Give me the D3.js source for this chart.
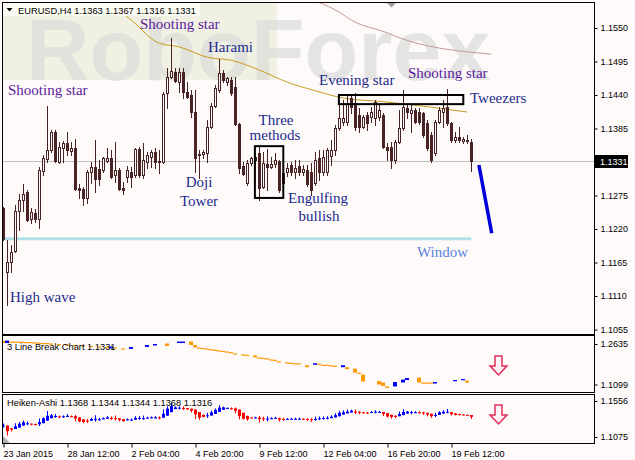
<!DOCTYPE html>
<html><head><meta charset="utf-8">
<script src="https://cdn.jsdelivr.net/npm/d3@7"></script>
<style>html,body{margin:0;padding:0;background:#fffafa;} svg{display:block;}</style>
</head><body>
<svg id="c" width="635" height="460"></svg>
<script>
// ---------------- DATA ----------------
const headerText = "EURUSD,H4  1.1363 1.1367 1.1316 1.1331";
const lbTitle = "3 Line Break Chart 1.1331";
const haTitle = "Heiken-Ashi 1.1368 1.1344 1.1344 1.1368 1.1316";
const currentPrice = 1.1331;

const openP = [1.1254,1.1149,1.1166,1.1184,1.1250,1.1268,1.1281,1.1236,1.1246,1.1236,
1.1315,1.1335,1.1350,1.1379,1.1330,1.1353,1.1361,1.1348,1.1353,1.1287,
1.1286,1.1271,1.1314,1.1322,1.1318,1.1317,1.1332,1.1337,1.1309,1.1317,
1.1287,1.1305,1.1314,1.1309,1.1351,1.1309,1.1330,1.1338,1.1346,1.1332,
1.1330,1.1443,1.1470,1.1478,1.1461,1.1478,1.1445,1.1440,1.1412,1.1341,
1.1343,1.1345,1.1387,1.1422,1.1448,1.1476,1.1461,1.1465,1.1453,1.1392,
1.1323,1.1296,1.1328,1.1333,1.1345,1.1289,1.1327,1.1322,1.1327,1.1332,
1.1296,1.1314,1.1325,1.1314,1.1323,1.1314,1.1317,1.1314,1.1296,1.1337,
1.1314,1.1314,1.1340,1.1350,1.1386,1.1396,1.1396,1.1435,1.1427,1.1407,
1.1387,1.1407,1.1404,1.1402,1.1404,1.1407,1.1355,1.1355,1.1333,1.1363,
1.1386,1.1419,1.1410,1.1415,1.1412,1.1410,1.1394,1.1374,1.1345,1.1396,
1.1412,1.1420,1.1394,1.1366,1.1371,1.1364,1.1366,1.1363];
const highP = [1.1256,1.1202,1.1194,1.1259,1.1277,1.1294,1.1284,1.1254,1.1253,1.1322,
1.1341,1.1422,1.1382,1.1382,1.1363,1.1364,1.1379,1.1363,1.1368,1.1294,
1.1289,1.1317,1.1330,1.1366,1.1333,1.1338,1.1353,1.1350,1.1363,1.1320,
1.1297,1.1323,1.1322,1.1353,1.1355,1.1361,1.1346,1.1350,1.1353,1.1350,
1.1445,1.1484,1.1534,1.1484,1.1484,1.1484,1.1461,1.1448,1.1448,1.1350,
1.1350,1.1399,1.1427,1.1456,1.1499,1.1481,1.1470,1.1470,1.1470,1.1394,
1.1330,1.1333,1.1338,1.1345,1.1356,1.1346,1.1351,1.1338,1.1345,1.1333,
1.1328,1.1328,1.1330,1.1333,1.1333,1.1325,1.1325,1.1328,1.1346,1.1350,
1.1350,1.1353,1.1366,1.1391,1.1424,1.1432,1.1440,1.1440,1.1443,1.1419,
1.1407,1.1412,1.1420,1.1432,1.1424,1.1410,1.1361,1.1363,1.1366,1.1415,
1.1448,1.1424,1.1424,1.1419,1.1419,1.1412,1.1399,1.1379,1.1399,1.1420,
1.1432,1.1450,1.1396,1.1379,1.1387,1.1371,1.1374,1.1367];
const lowP = [1.1202,1.1095,1.1149,1.1182,1.1218,1.1250,1.1233,1.1230,1.1231,1.1222,
1.1309,1.1330,1.1346,1.1330,1.1328,1.1330,1.1341,1.1341,1.1284,1.1271,
1.1259,1.1263,1.1296,1.1281,1.1292,1.1314,1.1330,1.1304,1.1297,1.1284,
1.1277,1.1297,1.1289,1.1305,1.1305,1.1304,1.1320,1.1322,1.1320,1.1312,
1.1328,1.1419,1.1468,1.1461,1.1445,1.1435,1.1435,1.1404,1.1314,1.1304,
1.1337,1.1330,1.1386,1.1420,1.1445,1.1461,1.1456,1.1440,1.1391,1.1312,
1.1309,1.1292,1.1325,1.1328,1.1268,1.1287,1.1284,1.1320,1.1322,1.1281,
1.1292,1.1307,1.1309,1.1304,1.1309,1.1309,1.1291,1.1276,1.1292,1.1300,
1.1309,1.1309,1.1325,1.1341,1.1382,1.1391,1.1391,1.1410,1.1382,1.1379,
1.1386,1.1382,1.1396,1.1391,1.1399,1.1353,1.1333,1.1320,1.1328,1.1361,
1.1382,1.1402,1.1379,1.1394,1.1392,1.1371,1.1350,1.1330,1.1341,1.1394,
1.1387,1.1391,1.1363,1.1363,1.1363,1.1361,1.1361,1.1316];
const closeP = [1.1204,1.1166,1.1182,1.1250,1.1268,1.1277,1.1235,1.1248,1.1236,1.1317,
1.1337,1.1350,1.1379,1.1332,1.1355,1.1361,1.1350,1.1353,1.1286,1.1284,
1.1271,1.1314,1.1322,1.1302,1.1302,1.1337,1.1337,1.1305,1.1317,1.1286,
1.1284,1.1317,1.1305,1.1351,1.1309,1.1333,1.1341,1.1346,1.1330,1.1330,
1.1442,1.1470,1.1479,1.1463,1.1478,1.1445,1.1437,1.1412,1.1337,1.1343,
1.1346,1.1387,1.1422,1.1452,1.1476,1.1465,1.1468,1.1443,1.1392,1.1320,
1.1310,1.1328,1.1337,1.1338,1.1287,1.1328,1.1322,1.1327,1.1333,1.1284,
1.1312,1.1320,1.1314,1.1320,1.1314,1.1318,1.1294,1.1284,1.1333,1.1314,
1.1338,1.1350,1.1350,1.1386,1.1402,1.1402,1.1427,1.1420,1.1387,1.1387,
1.1404,1.1394,1.1412,1.1429,1.1415,1.1355,1.1350,1.1333,1.1363,1.1386,
1.1420,1.1412,1.1415,1.1396,1.1396,1.1375,1.1353,1.1333,1.1396,1.1415,
1.1419,1.1394,1.1366,1.1371,1.1366,1.1368,1.1364,1.1331];

// moving averages (bar index, value)
const maGoldBar = [24,26,32,39,44,51,57,64,71,78,85,95,107,116];
const maGoldVal = [1.1604,1.1594,1.1563,1.1525,1.1519,1.1502,1.1497,1.1481,1.1461,1.1447,1.1435,1.1429,1.1420,1.1412];
const maRoseBar = [76,84,87,96,99,109,112,122];
const maRoseVal = [1.1599,1.1576,1.1563,1.1542,1.1534,1.1517,1.1514,1.1507];

// 3 line break bricks
const lbBar = [0,1,2,3,4,5,6,7,8,9,10,11,12,14,16,18,20,22,24,26,27,28,30,32,36,38,41,44,45,47,48,
49,50,51,52,53,54,55,56,57,58,60,61,63,64,65,66,67,68,69,71,72,73,74,76,78,79,80,81,82,83,85,86,88,89,90,
94,95,96,98,100,101,104,105,106,107,108,113,115,116];
const lbOpen = [1.2747,1.2672,1.2729,1.2729,1.2721,1.2721,1.2710,1.2710,1.2691,1.2691,1.2672,1.2672,1.2654,1.2635,1.2616,1.2598,1.2579,1.2560,1.2541,1.2523,1.2466,1.2504,1.2466,1.2448,1.2523,1.2579,1.2654,1.2672,1.2672,1.2729,1.2598,
1.2504,1.2485,1.2463,1.2440,1.2418,1.2395,1.2373,1.2350,1.2328,1.2279,1.2242,1.2223,1.2204,1.2129,1.2111,1.2092,1.2054,1.2036,1.1980,1.1942,1.1923,1.1905,1.1905,1.1830,1.1848,1.1886,1.1848,1.1848,1.1830,1.1811,1.1755,1.1755,1.1699,1.1549,1.1474,
1.1230,1.1174,1.1024,1.1024,1.1174,1.1268,1.1361,1.1174,1.1174,1.1174,1.1136,1.1230,1.1286,1.1249];
const lbClose = [1.2672,1.2766,1.2710,1.2710,1.2691,1.2691,1.2691,1.2672,1.2672,1.2654,1.2654,1.2635,1.2635,1.2616,1.2598,1.2579,1.2560,1.2541,1.2523,1.2504,1.2541,1.2466,1.2429,1.2523,1.2598,1.2635,1.2560,1.2729,1.2729,1.2598,1.2504,
1.2466,1.2448,1.2429,1.2410,1.2395,1.2373,1.2350,1.2328,1.2305,1.2242,1.2223,1.2204,1.2129,1.2111,1.2092,1.2054,1.2036,1.2017,1.1942,1.1905,1.1905,1.1886,1.1867,1.1755,1.1905,1.1848,1.1830,1.1811,1.1811,1.1792,1.1830,1.1680,1.1549,1.1511,1.1211,
1.1099,1.1043,1.0968,1.1193,1.1286,1.1343,1.1174,1.1136,1.1136,1.1136,1.1193,1.1268,1.1305,1.1174];

// annotations in data units
const windowLine = {from:0, to:117, price:1.1204};
const forecast = {fromBar:118.9, fromPrice:1.1325, toBar:122.1, toPrice:1.1213};
const threeMethodsBox = {b0:62.9, b1:70.0, p0:1.1356, p1:1.1271};
const tweezersBox = {b0:83.9, b1:115.0, p0:1.1440, p1:1.1425};

const priceTicks = [1.1550,1.1495,1.1440,1.1385,1.1275,1.1220,1.1165,1.1110,1.1055];
const lbTicks = [1.2635,1.1099];
const haTicks = [1.1556,1.1075];
const dateIdx = [0,16,32,48,64,80,96,112];
const dateLabels = ["23 Jan 2015","28 Jan 12:00","2 Feb 04:00","4 Feb 20:00","9 Feb 12:00","12 Feb 04:00","16 Feb 20:00","19 Feb 12:00"];

const labels = [
  {t:"Shooting star", x:8, y:95, c:"purple"},
  {t:"Shooting star", x:140, y:29, c:"purple"},
  {t:"Harami", x:208, y:52, c:"navy"},
  {t:"Three", x:276, y:125, c:"navy", a:"middle"},
  {t:"methods", x:275, y:140, c:"navy", a:"middle"},
  {t:"Doji", x:199, y:187, c:"navy", a:"middle"},
  {t:"Tower", x:199, y:206, c:"navy", a:"middle"},
  {t:"Engulfing", x:318, y:203, c:"navy", a:"middle"},
  {t:"bullish", x:319, y:221, c:"navy", a:"middle"},
  {t:"Evening star", x:319, y:85, c:"navy"},
  {t:"Shooting star", x:408, y:78, c:"purple"},
  {t:"Tweezers", x:470, y:103, c:"navy"},
  {t:"Window", x:417, y:257, c:"window"},
  {t:"High wave", x:10, y:302, c:"navy"}
];

// ---------------- DRAW ----------------
const BG = "#fffafa", CANDLE = "#4a2424";
const colorMap = {purple:"#5a1aa0", navy:"#1c2a8c", window:"#5a82e0"};
const L = 3, R = 594;
const mainT = 3, mainB = 334, p2T = 336, p2B = 392, p3T = 395, p3B = 443;

const svg = d3.select("#c");
svg.append("rect").attr("width",635).attr("height",460).attr("fill",BG);

const x = d3.scaleLinear().domain([0,100]).range([3.3,403.3]);
const y = d3.scaleLinear().domain([1.1055,1.1550]).range([329.5,28]);
const y2 = d3.scaleLinear().domain([1.1099,1.2635]).range([384.5,344]);
const y3 = d3.scaleLinear().domain([1.1075,1.1556]).range([437,401]);

const defs = svg.append("defs");
defs.append("clipPath").attr("id","cm").append("rect").attr("x",L).attr("y",mainT).attr("width",R-L).attr("height",mainB-mainT);
defs.append("clipPath").attr("id","c2").append("rect").attr("x",L).attr("y",p2T).attr("width",R-L).attr("height",p2B-p2T);
defs.append("clipPath").attr("id","c3").append("rect").attr("x",L).attr("y",p3T).attr("width",R-L).attr("height",p3B-p3T);

// ---- main panel ----
const gm = svg.append("g").attr("clip-path","url(#cm)");
// watermark
gm.append("rect").attr("x",L).attr("y",mainT).attr("width",274).attr("height",77).attr("fill","#f1f1e3");
gm.append("text").attr("x",26).attr("y",80).attr("font-family","Liberation Sans, Arial, sans-serif")
  .attr("font-weight","bold").attr("font-size",88).attr("fill","#d9ddd9").attr("opacity",0.7).text("RoboForex");

// current price line
gm.append("line").attr("x1",L).attr("x2",R).attr("y1",Math.round(y(currentPrice))+0.5).attr("y2",Math.round(y(currentPrice))+0.5)
  .attr("stroke","#c0c0c0").attr("stroke-width",1);

// window line
gm.append("line").attr("x1",x(windowLine.from)-1).attr("x2",x(windowLine.to)).attr("y1",y(windowLine.price)).attr("y2",y(windowLine.price))
  .attr("stroke","#b0e0e6").attr("stroke-width",3);

// moving averages
const lineGen = d3.line().curve(d3.curveMonotoneX);
gm.append("path").attr("d", lineGen(maGoldBar.map((b,i)=>[x(b), y(maGoldVal[i])])))
  .attr("fill","none").attr("stroke","#c89a1e").attr("stroke-width",1);
gm.append("path").attr("d", lineGen(maRoseBar.map((b,i)=>[x(b), y(maRoseVal[i])])))
  .attr("fill","none").attr("stroke","#c49a9a").attr("stroke-width",1);

// candles
const candles = openP.map((o,i)=>({i, o, h:highP[i], l:lowP[i], c:closeP[i]}));
const cg = gm.append("g");
candles.forEach(d=>{
  const cx = Math.round(x(d.i));
  cg.append("line").attr("x1",cx+0.5).attr("x2",cx+0.5).attr("y1",Math.round(y(d.h))).attr("y2",Math.round(y(d.l))+1)
    .attr("stroke",CANDLE).attr("stroke-width",1);
  const yo = Math.round(y(d.o)), yc = Math.round(y(d.c));
  if (yo === yc) {
    cg.append("rect").attr("x",cx-1).attr("y",yo).attr("width",3).attr("height",1).attr("fill",CANDLE);
  } else if (d.c > d.o) {
    cg.append("rect").attr("x",cx-0.5).attr("y",yc+0.5).attr("width",2).attr("height",yo-yc)
      .attr("fill",BG).attr("stroke",CANDLE).attr("stroke-width",1);
  } else {
    cg.append("rect").attr("x",cx-1).attr("y",yo).attr("width",3).attr("height",yc-yo+1).attr("fill",CANDLE);
  }
});

// boxes
[threeMethodsBox, tweezersBox].forEach(b=>{
  gm.append("rect").attr("x",x(b.b0)).attr("y",y(b.p0)).attr("width",x(b.b1)-x(b.b0)).attr("height",y(b.p1)-y(b.p0))
    .attr("fill","none").attr("stroke","#000").attr("stroke-width",2);
});

// forecast line
gm.append("line").attr("x1",x(forecast.fromBar)).attr("y1",y(forecast.fromPrice)).attr("x2",x(forecast.toBar)).attr("y2",y(forecast.toPrice))
  .attr("stroke","#0000dd").attr("stroke-width",3.5);

// shift marker
gm.append("path").attr("d","M387,3 L396,3 L391.5,7.5 Z").attr("fill","#a0a0a0");

// pattern labels
labels.forEach(l=>{
  gm.append("text").attr("x",l.x).attr("y",l.y).attr("text-anchor",l.a||"start")
    .attr("font-family","Liberation Serif, Times New Roman, serif").attr("font-size",15)
    .attr("fill",colorMap[l.c]).text(l.t);
});

// header
gm.append("rect").attr("x",L).attr("y",mainT).attr("width",197).attr("height",13).attr("fill","#fbfbf3");
gm.append("path").attr("d","M6.5,8 L12.5,8 L9.5,11.5 Z").attr("fill","#000");
gm.append("text").attr("x",18).attr("y",13.5).attr("font-family","Liberation Sans, Arial, sans-serif").attr("font-size",9.3)
  .attr("fill","#000").text(headerText);

// ---- 3 line break panel ----
const g2 = svg.append("g").attr("clip-path","url(#c2)");
lbBar.forEach((b,i)=>{
  const cx = Math.round(x(b));
  const o = lbOpen[i], c = lbClose[i];
  const yt = y2(Math.max(o,c)), yb = y2(Math.min(o,c));
  g2.append("rect").attr("x",cx-2).attr("y",yt).attr("width",4).attr("height",Math.max(1.2,yb-yt))
    .attr("fill", c>o ? "#0000ff" : "#ff9900");
});
g2.append("text").attr("x",7).attr("y",350).attr("font-family","Liberation Sans, Arial, sans-serif").attr("font-size",9.3)
  .attr("fill","#000").text(lbTitle);

// ---- Heiken-Ashi panel ----
const g3 = svg.append("g").attr("clip-path","url(#c3)");
let prevO = null, prevC = null;
candles.forEach(d=>{
  const hc = (d.o+d.h+d.l+d.c)/4;
  const ho = prevO===null ? (d.o+d.c)/2 : (prevO+prevC)/2;
  const hh = Math.max(d.h, ho, hc), hl = Math.min(d.l, ho, hc);
  prevO = ho; prevC = hc;
  const col = hc >= ho ? "#0000ff" : "#ff0000";
  const cx = Math.round(x(d.i));
  g3.append("line").attr("x1",cx+0.5).attr("x2",cx+0.5).attr("y1",y3(hh)).attr("y2",y3(hl)).attr("stroke",col).attr("stroke-width",1);
  const yt = y3(Math.max(ho,hc)), yb = y3(Math.min(ho,hc));
  g3.append("rect").attr("x",cx-1).attr("y",yt).attr("width",3).attr("height",Math.max(1,yb-yt)).attr("fill",col);
});
g3.append("text").attr("x",7).attr("y",406).attr("font-family","Liberation Sans, Arial, sans-serif").attr("font-size",9.3)
  .attr("fill","#000").text(haTitle);
g3.append("path").attr("d","M3,436 L10,443 L3,443 Z").attr("fill","#b0b0b0");

// arrows
[[356,375],[405,424]].forEach(([a,b])=>{
  const mid = a + (b-a)*0.52;
  svg.append("path").attr("d",`M495,${a} H502 V${mid} H507 L498.5,${b} L490,${mid} H495 Z`)
    .attr("fill","#fff3f5").attr("stroke","#e0305a").attr("stroke-width",1.5);
});

// ---- frames ----
const frame = svg.append("g").attr("fill","none").attr("stroke","#000").attr("stroke-width",1);
[[mainT,mainB],[p2T,p2B],[p3T,p3B]].forEach(([t,b])=>{
  frame.append("rect").attr("x",L-0.5).attr("y",t-0.5).attr("width",R-L+1).attr("height",b-t+1);
});

// ---- axes ----
const fmt = d3.format(".4f");
function styleAxis(g){
  g.select(".domain").remove();
  g.selectAll("text").attr("font-family","Liberation Sans, Arial, sans-serif").attr("font-size",9).attr("fill","#000");
  g.selectAll("line").attr("stroke","#000");
}
svg.append("g").attr("transform",`translate(${R+0.5},0)`)
  .call(d3.axisRight(y).tickValues(priceTicks).tickFormat(fmt).tickSize(3).tickSizeOuter(0).tickPadding(3))
  .call(styleAxis);
svg.append("g").attr("transform",`translate(${R+0.5},0)`)
  .call(d3.axisRight(y2).tickValues(lbTicks).tickFormat(fmt).tickSize(3).tickSizeOuter(0).tickPadding(3))
  .call(styleAxis);
svg.append("g").attr("transform",`translate(${R+0.5},0)`)
  .call(d3.axisRight(y3).tickValues(haTicks).tickFormat(fmt).tickSize(3).tickSizeOuter(0).tickPadding(3))
  .call(styleAxis);

// current price tag
const cy = Math.round(y(currentPrice));
svg.append("rect").attr("x",595).attr("y",cy-6).attr("width",33).attr("height",13).attr("fill","#000");
svg.append("text").attr("x",600).attr("y",cy+3.5).attr("font-family","Liberation Sans, Arial, sans-serif").attr("font-size",9)
  .attr("fill","#fff").text(fmt(currentPrice));

// date axis
const gx = svg.append("g").attr("transform",`translate(0,${p3B+0.5})`)
  .call(d3.axisBottom(x).tickValues(dateIdx).tickFormat((d,i)=>dateLabels[i]).tickSize(4).tickSizeOuter(0).tickPadding(3))
  .call(styleAxis);
gx.selectAll(".tick line").attr("transform","translate(0.2,0)");
gx.selectAll(".tick text").attr("text-anchor","start").attr("dx","-0.3");
</script>
</body></html>
